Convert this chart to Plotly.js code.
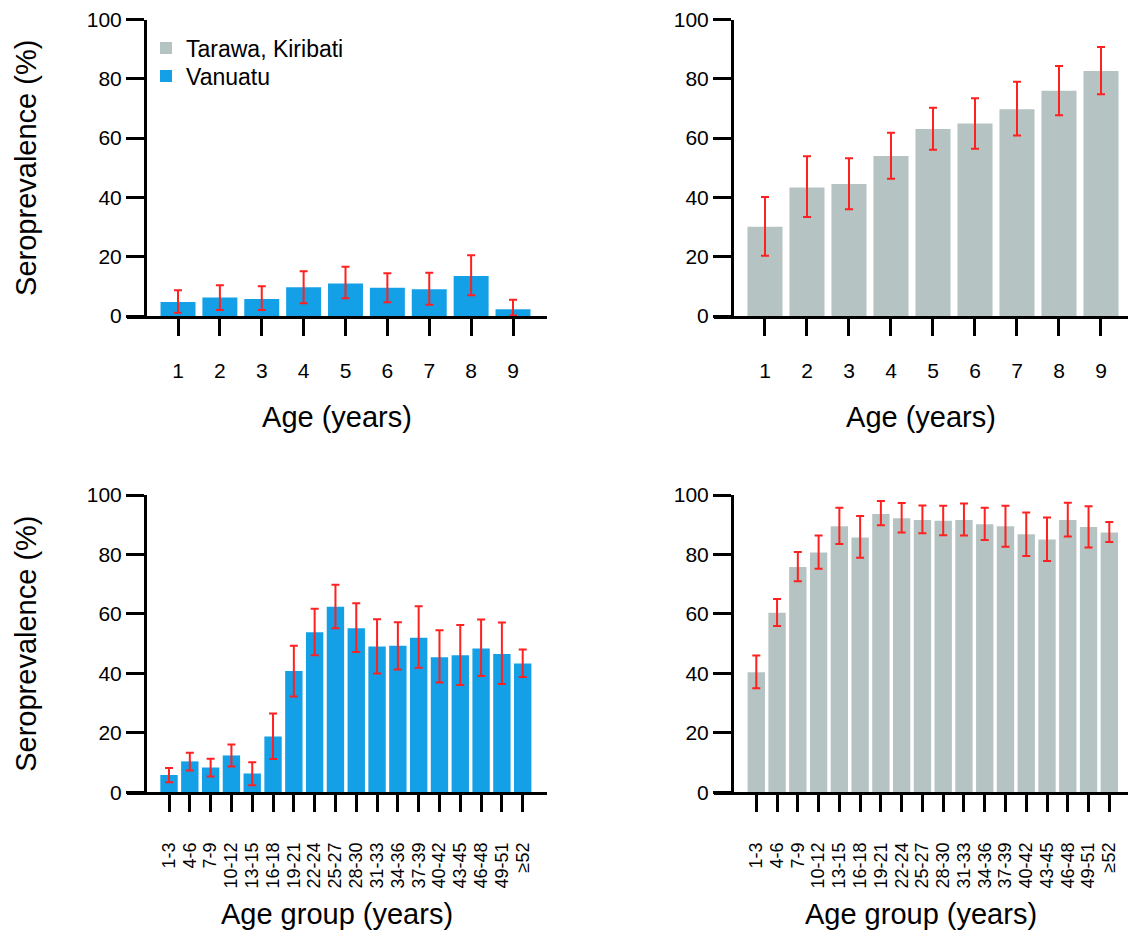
<!DOCTYPE html>
<html>
<head>
<meta charset="utf-8">
<script src="https://cdn.plot.ly/plotly-3.0.1.min.js"></script>
<style>html,body{margin:0;padding:0;background:#fff;}#chart{width:1129px;height:930px;}</style>
</head>
<body>
<div id="chart"></div>
<script>
// ---- Data ----
const ageYears = ['1','2','3','4','5','6','7','8','9'];
const vanuatuChild = [4.7, 6.2, 5.7, 9.7, 11.0, 9.5, 9.0, 13.5, 2.3];
const vanuatuChildLo = [1.1, 2.0, 2.0, 4.3, 6.0, 4.6, 3.8, 7.0, 0.2];
const vanuatuChildHi = [8.7, 10.4, 10.0, 15.1, 16.6, 14.4, 14.6, 20.5, 5.5];

const kiribatiChild = [30.1, 43.3, 44.5, 54.0, 63.1, 64.9, 69.7, 76.0, 82.6];
const kiribatiChildLo = [20.3, 33.4, 36.0, 46.3, 56.1, 56.4, 60.9, 67.7, 74.8];
const kiribatiChildHi = [40.1, 53.9, 53.2, 61.8, 70.2, 73.4, 79.0, 84.3, 90.7];

const ageGroups = ['1-3','4-6','7-9','10-12','13-15','16-18','19-21','22-24','25-27','28-30','31-33','34-36','37-39','40-42','43-45','46-48','49-51','≥52'];
const vanuatuAll = [5.8, 10.4, 8.3, 12.4, 6.3, 18.8, 40.8, 53.8, 62.4, 55.2, 49.0, 49.3, 52.0, 45.4, 46.1, 48.4, 46.5, 43.3];
const vanuatuAllLo = [3.4, 7.3, 5.3, 8.7, 2.4, 11.2, 32.2, 46.1, 55.2, 47.2, 40.0, 41.3, 41.9, 36.9, 36.1, 39.1, 36.4, 38.8];
const vanuatuAllHi = [8.2, 13.3, 11.3, 16.1, 10.1, 26.5, 49.3, 61.7, 69.8, 63.6, 58.2, 57.2, 62.6, 54.5, 56.3, 58.1, 57.1, 48.0];

const kiribatiAll = [40.4, 60.4, 75.8, 80.7, 89.5, 85.7, 93.6, 92.2, 91.6, 91.3, 91.6, 90.2, 89.5, 86.8, 85.0, 91.6, 89.2, 87.4];
const kiribatiAllLo = [35.0, 55.9, 71.0, 75.2, 83.5, 78.9, 89.8, 87.4, 87.1, 86.5, 86.4, 84.9, 82.6, 79.5, 77.8, 86.0, 82.3, 84.2];
const kiribatiAllHi = [46.0, 65.0, 80.8, 86.4, 95.7, 92.9, 98.0, 97.3, 96.5, 96.4, 97.1, 95.7, 96.4, 94.1, 92.4, 97.4, 96.2, 90.9];

const yTicks = [0, 20, 40, 60, 80, 100];

// ---- Styling ----
const W = 1129, H = 930;
const BLUE = '#14a0e6', GRAY = '#b5c3c2', RED = '#ff2020';
const FONT = 'Liberation Sans, Arial, sans-serif';
const px = v => v / W;
const py = v => 1 - v / H;

function barTrace(x, y, lo, hi, color, name, xa, ya, showlegend, legend) {
  const t = {
    type: 'bar', x: x, y: y, name: name, xaxis: xa, yaxis: ya,
    marker: {color: color, line: {width: 0}},
    showlegend: showlegend,
    error_y: {
      type: 'data', symmetric: false,
      array: hi.map((h, i) => h - y[i]),
      arrayminus: lo.map((l, i) => y[i] - l),
      color: RED, thickness: 2, width: 4
    },
    hoverinfo: 'x+y'
  };
  if (legend) t.legend = legend;
  return t;
}

const data = [
  barTrace(ageYears, kiribatiChild, kiribatiChildLo, kiribatiChildHi, GRAY, 'Tarawa, Kiribati', 'x2', 'y2', true, 'legend'),
  barTrace(ageYears, vanuatuChild, vanuatuChildLo, vanuatuChildHi, BLUE, 'Vanuatu', 'x', 'y', true, 'legend2'),
  barTrace(ageGroups, vanuatuAll, vanuatuAllLo, vanuatuAllHi, BLUE, 'Vanuatu', 'x3', 'y3', false),
  barTrace(ageGroups, kiribatiAll, kiribatiAllLo, kiribatiAllHi, GRAY, 'Tarawa, Kiribati', 'x4', 'y4', false)
];

function xAxis(domain, range, anchor, cats, title, angle, tfs, lblStandoff, titleStandoff) {
  return {
    domain: domain, range: range, anchor: anchor, type: 'category',
    tickmode: 'array', tickvals: cats, ticktext: cats,
    showline: true, linewidth: 3, linecolor: '#000',
    ticks: 'outside', ticklen: 17, tickwidth: 3, tickcolor: '#000',
    tickangle: angle, tickfont: {family: FONT, size: tfs, color: '#000'},
    ticklabelstandoff: lblStandoff,
    showgrid: false, zeroline: false, fixedrange: true,
    title: {text: title, font: {family: FONT, size: 29, color: '#000'}, standoff: titleStandoff}
  };
}
function yAxis(domain, pos, title) {
  return {
    domain: domain, range: [0, 100], anchor: 'free', position: pos,
    tickvals: yTicks, ticktext: yTicks.map(String),
    showline: true, linewidth: 3, linecolor: '#000',
    ticks: 'outside', ticklen: 18, tickwidth: 3, tickcolor: '#000',
    tickfont: {family: FONT, size: 21, color: '#000'},
    showgrid: false, zeroline: false, fixedrange: true,
    title: {text: title, font: {family: FONT, size: 29, color: '#000'}, standoff: 40}
  };
}

const topY = [py(316), py(19.5)];
const botY = [py(792.3), py(495)];

const legendBase = {
  xanchor: 'left', yanchor: 'middle',
  font: {family: FONT, size: 23, color: '#000'},
  bgcolor: 'rgba(0,0,0,0)', itemclick: false
};

const layout = {
  width: W, height: H,
  margin: {l: 0, r: 0, t: 0, b: 0},
  paper_bgcolor: '#fff', plot_bgcolor: 'rgba(0,0,0,0)',
  bargap: 0.165,
  font: {family: FONT, color: '#000'},
  showlegend: true,
  legend: Object.assign({x: px(146), y: py(48)}, legendBase),
  legend2: Object.assign({x: px(146), y: py(76)}, legendBase),
  xaxis: xAxis([px(127), px(547)], [-1.218, 8.812], 'y', ageYears, 'Age (years)', 0, 21, 17, 26),
  yaxis: yAxis(topY, px(145), 'Seroprevalence (%)'),
  xaxis2: xAxis([px(714), px(1128)], [-1.214, 8.643], 'y2', ageYears, 'Age (years)', 0, 21, 17, 26),
  yaxis2: yAxis(topY, px(732), ''),
  xaxis3: xAxis([px(127), px(547)], [-2.019, 18.168], 'y3', ageGroups, 'Age group (years)', -90, 18, 23, 17),
  yaxis3: yAxis(botY, px(145), 'Seroprevalence (%)'),
  xaxis4: xAxis([px(714), px(1128)], [-2.037, 17.9], 'y4', ageGroups, 'Age group (years)', -90, 18, 23, 17),
  yaxis4: yAxis(botY, px(732), '')
};

Plotly.newPlot('chart', data, layout, {displayModeBar: false, staticPlot: true});
</script>
</body>
</html>
